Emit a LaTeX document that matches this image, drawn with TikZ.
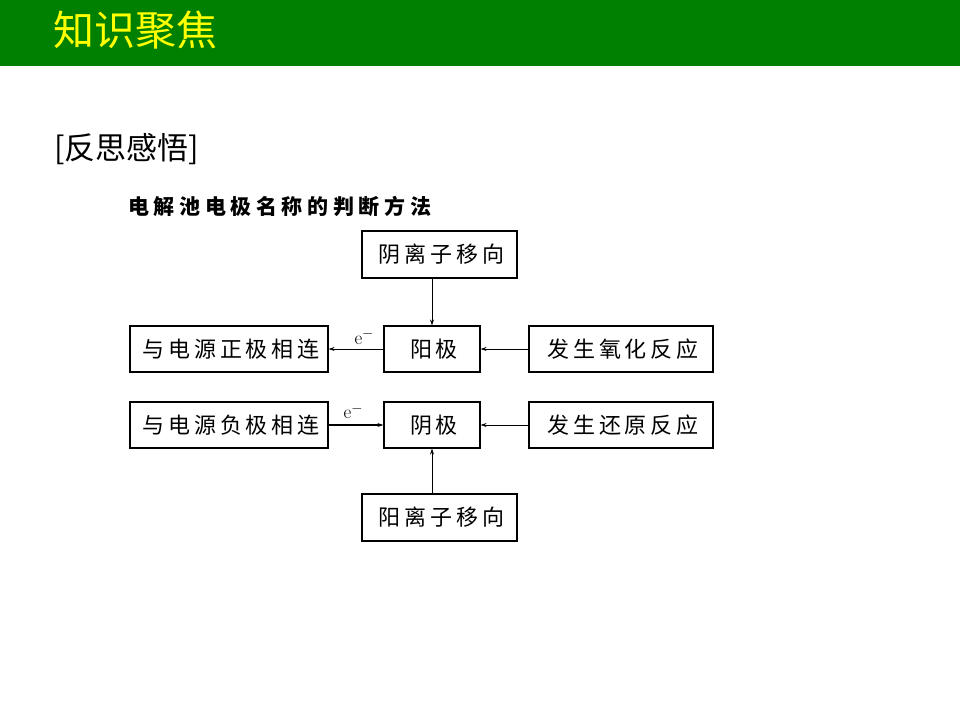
\documentclass[tikz,border=0pt]{standalone}
\usepackage{fontspec}
\newfontfamily\cjk{Noto Sans CJK SC}
\newfontfamily\cjksp{Noto Sans CJK SC}[LetterSpace=18]
\newfontfamily\cjkhd{Noto Sans CJK SC}[LetterSpace=22]
\usetikzlibrary{arrows.meta}
\definecolor{bargreen}{HTML}{008000}
\definecolor{titleyellow}{HTML}{FFFF00}
\begin{document}
\begin{tikzpicture}[x=1pt,y=-1pt,
  box/.style={draw,line width=1.2pt,inner sep=0pt,font=\cjksp\fontsize{22}{24}\selectfont},
  conn/.style={line width=0.6pt,-{Stealth[length=6pt,width=4pt]}},
  lbl/.style={font=\fontsize{19}{21}\selectfont}]
\useasboundingbox (0,0) rectangle (960,720);
\fill[bargreen] (0,0) rectangle (960,66);
\node[anchor=west,text=titleyellow,font=\cjk\fontsize{41}{44}\selectfont,inner sep=0pt] (title) at (53,30) {知识聚焦};
\node[anchor=west,font=\cjk\fontsize{31}{34}\selectfont,inner sep=0pt] (sect) at (54,149) {[反思感悟]};
\node[anchor=west,font=\cjkhd\bfseries\fontsize{21}{23}\selectfont,inner sep=0pt] (head) at (128,206) {电解池电极名称的判断方法};
\node[box,minimum width=155pt,minimum height=47pt] (anion) at (439.5,254.5) {\hspace*{4pt}阴离子移向};
\node[box,minimum width=198pt,minimum height=46pt] (pos) at (229,349) {\hspace*{4pt}与电源正极相连};
\node[box,minimum width=96pt,minimum height=46pt] (anode) at (432,349) {\hspace*{4pt}阳极};
\node[box,minimum width=184pt,minimum height=46pt] (ox) at (621,349) {\hspace*{4pt}发生氧化反应};
\node[box,minimum width=198pt,minimum height=46pt] (neg) at (229,425) {\hspace*{4pt}与电源负极相连};
\node[box,minimum width=96pt,minimum height=46pt] (cathode) at (432,425) {\hspace*{4pt}阴极};
\node[box,minimum width=184pt,minimum height=46pt] (red) at (621,425) {\hspace*{4pt}发生还原反应};
\node[box,minimum width=155pt,minimum height=47pt] (cation) at (439.5,517.5) {\hspace*{4pt}阳离子移向};
\draw[conn] (anion.south -| anode.north) -- (anode.north);
\draw[conn] (anode.west) -- node[lbl,above=1pt,pos=0.35] (e1) {e$^{-}$} (pos.east);
\draw[conn] (ox.west) -- (anode.east);
\draw[conn,line width=1.2pt] (neg.east) -- node[lbl,above=2pt,pos=0.45] (e2) {e$^{-}$} (cathode.west);
\draw[conn] (red.west) -- (cathode.east);
\draw[conn] (cation.north -| cathode.south) -- (cathode.south);
\end{tikzpicture}
\end{document}
